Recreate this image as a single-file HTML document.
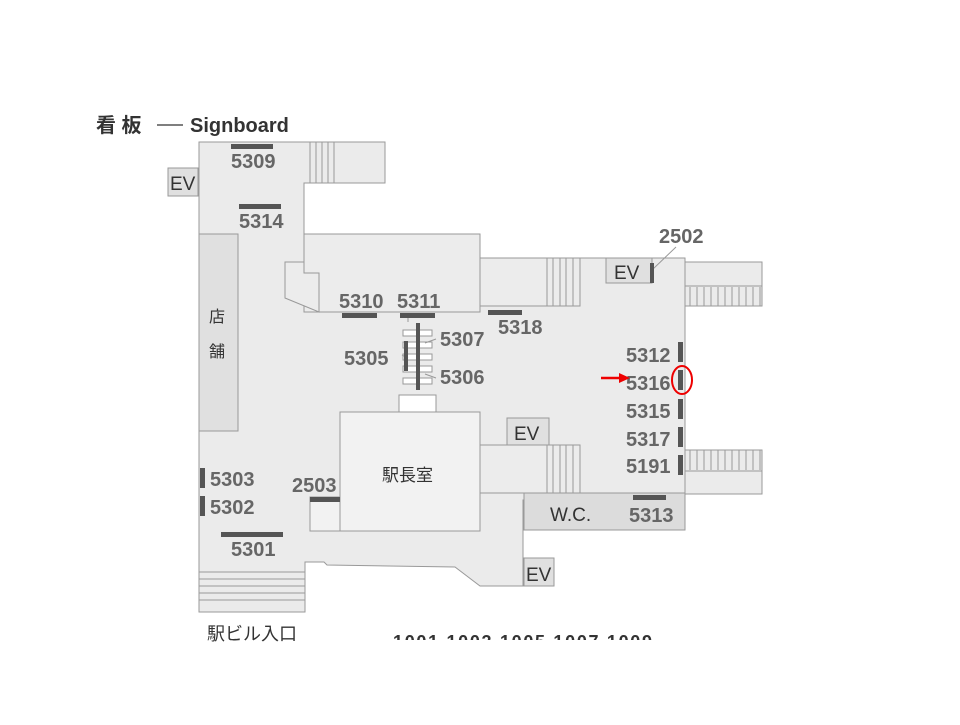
<!DOCTYPE html>
<html><head><meta charset="utf-8"><style>
body{margin:0;background:#fff;width:960px;height:720px;overflow:hidden}
svg text{font-family:"Liberation Sans","Noto Sans CJK JP",sans-serif}
.l{font-size:20px;font-weight:bold;fill:#666}
</style></head><body>
<svg width="960" height="720" viewBox="0 0 960 720">
<g stroke="#999" stroke-width="1">
<polygon fill="#ebebeb" points="199,142 385,142 385,183 304,183 304,258 685,258 685,262 762,262 762,306 685,306 685,450 762,450 762,494 685,494 685,500 523,500 523,586 480,586 455,567 327,565 324,562 305,562 305,612 199,612"/>
<rect x="304" y="234" width="176" height="78" fill="#ececec"/>
<polygon fill="#ececec" points="285,262 304,262 304,273 319,273 319,312 285,298"/>
<rect x="480" y="258" width="100" height="48" fill="#ececec"/>
<rect x="480" y="445" width="100" height="48" fill="#ececec"/>
<rect x="199" y="234" width="39" height="197" fill="#e0e0e0"/>
<rect x="168" y="168" width="30" height="28" fill="#e0e0e0"/>
<rect x="606" y="258" width="46" height="25" fill="#e0e0e0"/>
<rect x="507" y="418" width="42" height="27" fill="#e0e0e0"/>
<rect x="524" y="558" width="30" height="28" fill="#e0e0e0"/>
<rect x="524" y="493" width="161" height="37" fill="#dcdcdc"/>
<rect x="310" y="497" width="40" height="34" fill="#f2f2f2"/>
<rect x="340" y="412" width="140" height="119" fill="#f2f2f2"/>
<rect x="399" y="395" width="37" height="17" fill="#fff"/>
<rect x="685" y="262" width="77" height="44" fill="#ebebeb"/>
<rect x="685" y="450" width="77" height="44" fill="#ebebeb"/>
</g>
<g stroke="#999" stroke-width="1" fill="none">
<path d="M310 142V183M316 142V183M322 142V183M328 142V183M334 142V183"/>
<path d="M547 258V306M553 258V306M560 258V306M566 258V306M573 258V306"/>
<path d="M547 445V493M553 445V493M560 445V493M566 445V493M573 445V493"/>
<path d="M690 287V306M697 287V306M704 287V306M711 287V306M718 287V306M725 287V306M732 287V306M739 287V306M746 287V306M753 287V306M760 287V306M685 286H762"/>
<path d="M690 450V470M697 450V470M704 450V470M711 450V470M718 450V470M725 450V470M732 450V470M739 450V470M746 450V470M753 450V470M760 450V470M685 471H762"/>
<path d="M199 572H305M199 579H305M199 586H305M199 593H305M199 600H305"/>
<path d="M403 330H432V336H403ZM403 342H432V348H403ZM403 354H432V360H403ZM403 366H432V372H403ZM403 378H432V384H403Z" fill="#fff"/>
<path d="M408 318V322M436 339L425 343M402 355L408 358M436 378L425 374M652 270L676 247"/>
</g>
<g fill="#555">
<rect x="231" y="144" width="42" height="5"/>
<rect x="239" y="204" width="42" height="5"/>
<rect x="342" y="313" width="35" height="5"/>
<rect x="400" y="313" width="35" height="5"/>
<rect x="488" y="310" width="34" height="5"/>
<rect x="416" y="323" width="4" height="67"/>
<rect x="404" y="341" width="4" height="30"/>
<rect x="650" y="263" width="4" height="20"/>
<rect x="678" y="342" width="5" height="20"/>
<rect x="678" y="370" width="5" height="20"/>
<rect x="678" y="399" width="5" height="20"/>
<rect x="678" y="427" width="5" height="20"/>
<rect x="678" y="455" width="5" height="20"/>
<rect x="633" y="495" width="33" height="5"/>
<rect x="200" y="468" width="5" height="20"/>
<rect x="200" y="496" width="5" height="20"/>
<rect x="221" y="532" width="62" height="5"/>
<rect x="310" y="497" width="30" height="5"/>
</g>
<text x="96" y="132" style="font-size:20px;font-weight:bold;fill:#333">看 板</text>
<line x1="157" y1="125" x2="183" y2="125" stroke="#333" stroke-width="1.2"/>
<text x="190" y="132" style="font-size:20px;font-weight:bold;fill:#333">Signboard</text>
<g class="l">
<text x="231" y="168">5309</text><text x="239" y="228">5314</text>
<text x="339" y="308">5310</text><text x="397" y="308">5311</text>
<text x="440" y="346">5307</text><text x="344" y="365">5305</text><text x="440" y="384">5306</text>
<text x="498" y="334">5318</text><text x="659" y="243">2502</text>
<text x="626" y="362">5312</text><text x="626" y="390">5316</text><text x="626" y="418">5315</text><text x="626" y="446">5317</text><text x="626" y="473">5191</text>
<text x="629" y="522">5313</text>
<text x="210" y="486">5303</text><text x="210" y="514">5302</text><text x="231" y="556">5301</text>
<text x="292" y="492">2503</text>
</g>
<g style="font-size:19px;fill:#333">
<text x="170" y="190">EV</text><text x="614" y="279">EV</text><text x="514" y="440">EV</text><text x="526" y="581">EV</text>
<text x="550" y="521">W.C.</text>
<text x="382" y="481" style="font-size:17px">駅長室</text>
<text x="209" y="322" style="font-size:16px">店</text><text x="209" y="357" style="font-size:16px">舗</text>
<text x="207" y="640" style="font-size:18px">駅ビル入口</text>
</g>
<svg x="390" y="634" width="300" height="6"><text x="3" y="14" textLength="259" lengthAdjust="spacing" style="font-size:18px;font-weight:bold;fill:#333">1001 1003 1005 1007 1009</text></svg>
<line x1="601" y1="378" x2="621" y2="378" stroke="#e00" stroke-width="2.5"/>
<polygon points="630,378 619,373 619,383" fill="#e00"/>
<ellipse cx="682" cy="380" rx="10" ry="14" fill="none" stroke="#e00" stroke-width="2"/>
</svg>
</body></html>
